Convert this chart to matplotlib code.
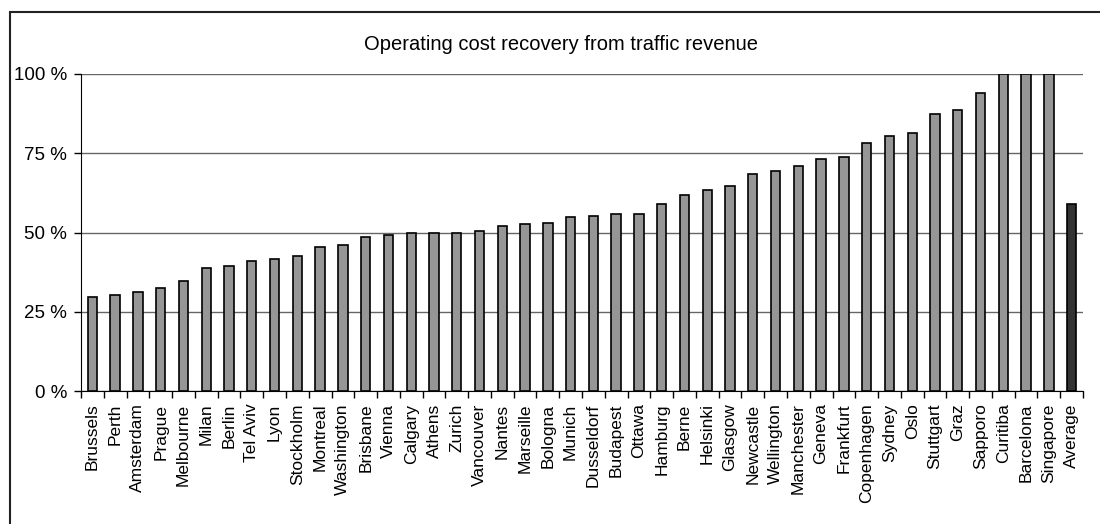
import matplotlib
matplotlib.use("Agg")
import matplotlib.pyplot as plt
from matplotlib.patches import Rectangle

plt.rcParams["font.family"] = ["Liberation Sans", "DejaVu Sans"]

cities = ["Brussels", "Perth", "Amsterdam", "Prague", "Melbourne", "Milan", "Berlin",
          "Tel Aviv", "Lyon", "Stockholm", "Montreal", "Washington", "Brisbane", "Vienna",
          "Calgary", "Athens", "Zurich", "Vancouver", "Nantes", "Marseille", "Bologna",
          "Munich", "Dusseldorf", "Budapest", "Ottawa", "Hamburg", "Berne", "Helsinki",
          "Glasgow", "Newcastle", "Wellington", "Manchester", "Geneva", "Frankfurt",
          "Copenhagen", "Sydney", "Oslo", "Stuttgart", "Graz", "Sapporo", "Curitiba",
          "Barcelona", "Singapore", "Average"]
recovery = [29.7, 30.2, 31.3, 32.4, 34.6, 38.9, 39.4, 41.1, 41.6, 42.7, 45.4, 46.1,
            48.7, 49.2, 49.8, 49.8, 49.8, 50.4, 52.1, 52.6, 53.1, 54.8, 55.3, 55.8,
            55.8, 59.1, 61.8, 63.5, 64.6, 68.3, 69.5, 71.1, 73.3, 73.8, 78.2, 80.4,
            81.5, 87.5, 88.5, 94.0, 100, 100, 100, 59.1]

colors = ["#969696"] * (len(cities) - 1) + ["#333333"]

fig = plt.figure(figsize=(11, 5.24), dpi=100)
ax = fig.add_axes([81 / 1100, 1 - 391 / 524, (1083 - 81) / 1100, (391 - 74) / 524])

x = list(range(len(cities)))
ax.bar(x, recovery, width=0.41, color=colors, edgecolor="black", linewidth=1.2, zorder=3)

ax.set_xlim(-0.5, len(cities) - 0.5)
ax.set_ylim(0, 100)
ax.set_yticks([0, 25, 50, 75, 100])
ax.set_yticklabels(["0 %", "25 %", "50 %", "75 %", "100 %"], fontsize=13.5)
ax.yaxis.grid(True, color="#666666", linewidth=1, zorder=0)

ax.set_xticks(x)
ax.set_xticklabels(cities, rotation=90, fontsize=12.5)
ax.set_xticks([i - 0.5 for i in range(len(cities) + 1)], minor=True)
ax.tick_params(axis="x", which="major", length=0, pad=9)
ax.tick_params(axis="x", which="minor", length=5, width=1, direction="out")
ax.tick_params(axis="y", length=5, width=1, direction="out", pad=5)

for s in ["top", "right"]:
    ax.spines[s].set_visible(False)
ax.spines["left"].set_color("black")
ax.spines["bottom"].set_color("black")

fig.text(561 / 1100, 1 - 45 / 524, "Operating cost recovery from traffic revenue",
         ha="center", va="center", fontsize=14.5)

fig.patches.append(Rectangle((10 / 1100, -0.1), 1.2, 1.1 - 12 / 524,
                             transform=fig.transFigure, fill=False,
                             edgecolor="#222222", linewidth=1.5))

plt.savefig("out.png", dpi=100)
